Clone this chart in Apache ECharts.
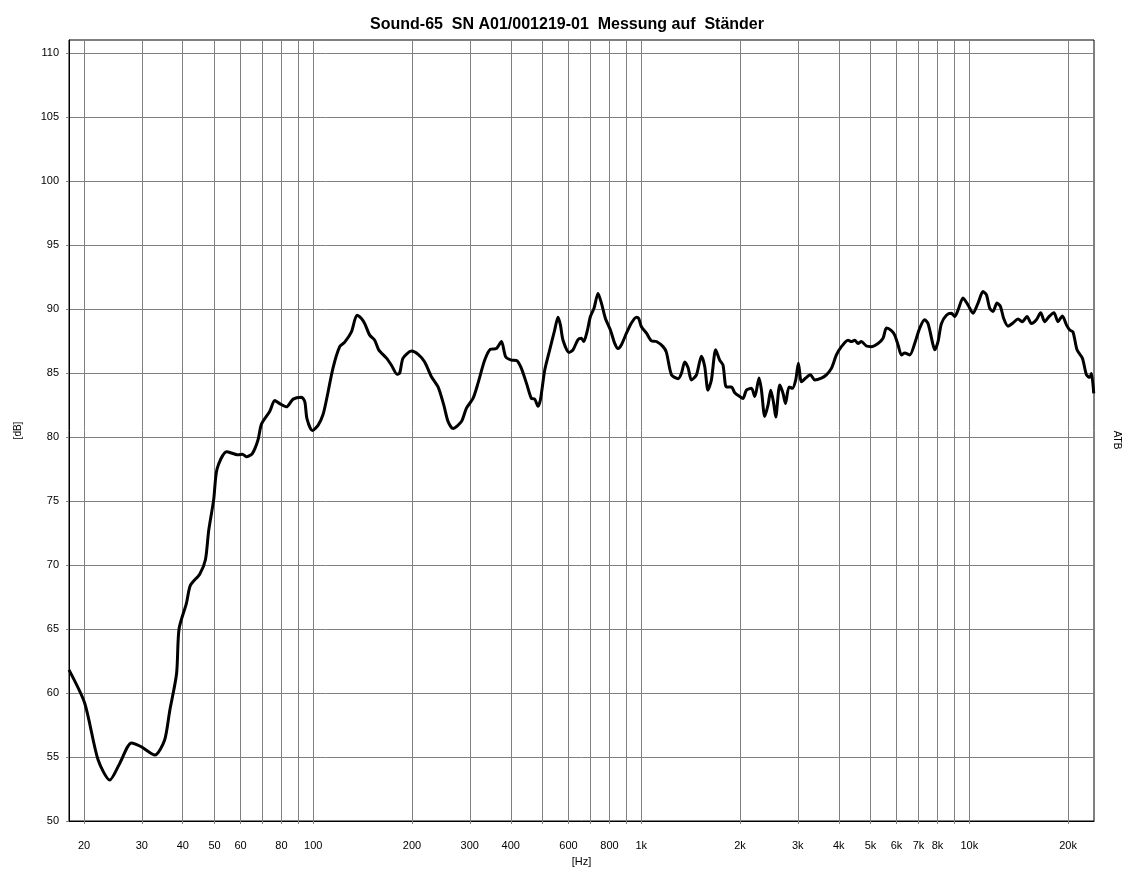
<!DOCTYPE html>
<html>
<head>
<meta charset="utf-8">
<script src="https://cdn.jsdelivr.net/npm/echarts@6/dist/echarts.min.js"></script>
<style>
html,body{margin:0;padding:0;background:#fff;}
#chart{width:1134px;height:880px;}
</style>
</head>
<body>
<div id="chart"></div>
<script>
const titleText = 'Sound-65  SN A01/001219-01  Messung auf  Ständer';

const freqHz = [
  18.0, 20.1, 22.06, 23.96, 25.7, 27.9, 29.9, 32.9, 35.2, 36.5, 38.3, 38.97, 41.04, 42.2, 45.1, 46.9, 48.0, 49.7, 50.9,
  54.4, 59.0, 60.8, 62.5, 65.2, 67.9, 69.5, 73.7, 76.3, 79.0, 82.8, 86.8, 92.0, 94.2, 95.7, 99.3,
  103.4, 107.1, 109.7, 114.9, 120.4, 124.7, 130.7, 135.9, 140.2, 143.5, 148.6, 153.9, 158.3, 167.2, 173.1, 180.1, 183.5, 187.8, 199.2,
  208.8, 218.6, 229.2, 240.1, 249.9, 257.6, 266.7, 282.9, 293.1, 306.9, 317.9, 333.2, 346.8, 361.7, 374.6, 386.1, 401.8,
  417.9, 431.0, 446.5, 462.4, 473.2, 484.3, 492.6, 507.7, 525.8, 544.5, 557.3, 566.8, 577.3, 602.2, 619.3, 641.4, 656.9, 667.6,
  683.2, 699.7, 717.7, 738.0, 755.9, 777.4, 805.2, 829.9, 849.3, 869.9, 901.0, 933.2, 966.5, 982.3, 1001,
  1037, 1074, 1112, 1165, 1193, 1236, 1295, 1325, 1357, 1389, 1422, 1473, 1525, 1561, 1597, 1636, 1686, 1734, 1775, 1817, 1883, 1927, 1996,
  2042, 2091, 2167, 2218, 2286, 2325, 2379, 2435, 2482, 2534, 2570, 2643, 2705, 2751, 2821, 2890, 2957, 3013, 3078,
  3172, 3278, 3379, 3541, 3667, 3798, 3934, 4075, 4269, 4371, 4474, 4580, 4688, 4856, 5030, 5269, 5458, 5590, 5789, 5924,
  6063, 6210, 6357, 6584, 6817, 7061, 7313, 7485, 7752, 7846, 8030, 8223, 8517, 8820, 9028, 9239, 9570, 9911,
  10265, 10632, 11011, 11276, 11541, 11811, 12147, 12441, 12731, 13123, 13590, 14076, 14517, 14993, 15462, 16015, 16506, 16976,
  17497, 18120, 18636, 19220, 19775, 20239, 20713, 21302, 22126, 22756, 23291, 23570, 23958
];

const levelDb = [
  61.8, 59.2, 54.8, 53.2, 54.5, 56.1, 55.8, 55.15, 56.3, 58.6, 61.5, 65.0, 67.0, 68.4, 69.3, 70.4, 72.7, 75.1, 77.5,
  78.85, 78.6, 78.65, 78.45, 78.7, 79.8, 81.0, 82.0, 82.85, 82.6, 82.35, 82.95, 83.1, 82.75, 81.4, 80.5,
  80.9, 81.75, 82.9, 85.4, 87.05, 87.4, 88.2, 89.5, 89.25, 88.85, 87.95, 87.55, 86.8, 86.15, 85.6, 84.9, 85.0, 86.15, 86.7,
  86.45, 85.85, 84.7, 83.9, 82.5, 81.2, 80.65, 81.2, 82.25, 83.0, 84.2, 86.0, 86.85, 86.9, 87.45, 86.25, 86.0,
  85.95, 85.35, 84.2, 83.0, 82.95, 82.4, 82.9, 85.2, 86.8, 88.35, 89.35, 88.75, 87.55, 86.6, 86.8, 87.6, 87.7, 87.45,
  88.2, 89.4, 90.05, 91.2, 90.45, 89.25, 88.35, 87.3, 86.9, 87.2, 88.1, 88.9, 89.35, 89.25, 88.6,
  88.1, 87.5, 87.45, 87.05, 86.6, 84.85, 84.55, 84.95, 85.85, 85.4, 84.45, 84.85, 86.3, 85.5, 83.65, 84.45, 86.8, 86.0, 85.6, 83.9, 83.9, 83.45, 83.15,
  83.0, 83.65, 83.8, 83.15, 84.6, 83.65, 81.6, 82.5, 83.65, 82.6, 81.55, 84.05, 83.4, 82.6, 83.9, 83.8, 84.45, 85.75, 84.3,
  84.6, 84.85, 84.45, 84.6, 84.85, 85.35, 86.4, 87.05, 87.55, 87.45, 87.55, 87.3, 87.45, 87.1, 87.05, 87.3, 87.7, 88.5, 88.3, 87.95,
  87.2, 86.4, 86.55, 86.4, 87.3, 88.5, 89.15, 88.85, 87.2, 86.8, 87.45, 88.85, 89.5, 89.65, 89.4, 89.9, 90.85, 90.3,
  89.65, 90.45, 91.35, 91.1, 90.05, 89.8, 90.45, 90.2, 89.25, 88.65, 88.9, 89.2, 89.0, 89.4, 88.85, 89.15, 89.7, 89.0,
  89.4, 89.7, 89.0, 89.45, 88.75, 88.35, 88.2, 86.8, 86.15, 84.85, 84.65, 84.95, 83.4
];

const xGridFreqs = [20, 30, 40, 50, 60, 70, 80, 90, 100, 200, 300, 400, 500, 600, 700, 800, 900, 1000,
  2000, 3000, 4000, 5000, 6000, 7000, 8000, 9000, 10000, 20000];
const xLabelFreqs = [20, 30, 40, 50, 60, 80, 100, 200, 300, 400, 600, 800, 1000, 2000, 3000, 4000, 5000, 6000, 7000, 8000, 10000, 20000];
const xLabelTexts = ['20', '30', '40', '50', '60', '80', '100', '200', '300', '400', '600', '800', '1k', '2k', '3k', '4k', '5k', '6k', '7k', '8k', '10k', '20k'];
const yTickValues = [50, 55, 60, 65, 70, 75, 80, 85, 90, 95, 100, 105, 110];
const xMinHz = 18, xMaxHz = 24000;
const yMin = 50, yMax = 111, yStep = 5;

const seriesData = freqHz.map((f, i) => [f, levelDb[i]]);
const lg = v => Math.log10(v);

function labelFor(v) {
  let best = 0, bd = Infinity;
  xLabelFreqs.forEach((f, i) => { const d = Math.abs(lg(f) - v); if (d < bd) { bd = d; best = i; } });
  return bd < 1e-6 ? xLabelTexts[best] : '';
}

const FONT = '"Liberation Sans", Arial, sans-serif';
const chart = echarts.init(document.getElementById('chart'), null, {renderer: 'canvas'});
chart.setOption({
  animation: false,
  backgroundColor: '#fff',
  title: {
    text: titleText, left: 'center', top: 12,
    textStyle: {fontFamily: FONT, fontSize: 16, fontWeight: 'bold', color: '#000'}
  },
  grid: {left: 69, right: 40, top: 40, bottom: 59, show: true, borderColor: '#000', borderWidth: 1, backgroundColor: 'transparent'},
  xAxis: [
    {type: 'log', min: xMinHz, max: xMaxHz, show: false, gridIndex: 0},
    {
      type: 'value', gridIndex: 0, position: 'bottom',
      min: lg(xMinHz), max: lg(xMaxHz),
      name: '[Hz]', nameLocation: 'middle', nameGap: 35,
      nameTextStyle: {fontFamily: FONT, fontSize: 11, color: '#000'},
      axisLine: {show: true, lineStyle: {color: '#000', width: 1}},
      axisTick: {show: true, length: 3, customValues: xGridFreqs.map(lg), lineStyle: {color: '#808080'}},
      splitLine: {show: true, lineStyle: {color: '#808080', width: 1}},
      axisLabel: {
        customValues: xLabelFreqs.map(lg), margin: 19,
        fontFamily: FONT, fontSize: 11, color: '#000',
        formatter: v => labelFor(v)
      }
    }
  ],
  yAxis: {
    type: 'value', min: yMin, max: yMax, interval: yStep,
    name: '[dB]', nameLocation: 'middle', nameGap: 46,
    nameTextStyle: {fontFamily: FONT, fontSize: 10, color: '#000'},
    axisLine: {show: true, lineStyle: {color: '#000', width: 1}},
    axisTick: {show: true, length: 3, customValues: yTickValues, lineStyle: {color: '#808080'}},
    splitLine: {show: true, lineStyle: {color: '#808080', width: 1}},
    axisLabel: {
      customValues: yTickValues,
      margin: 10, fontFamily: FONT, fontSize: 11, color: '#000',
      formatter: v => String(v)
    }
  },
  graphic: [{
    type: 'text', x: 1117, y: 440, rotation: -Math.PI / 2,
    style: {text: 'ATB', textAlign: 'center', textVerticalAlign: 'middle', font: '10px "Liberation Sans", Arial, sans-serif', fill: '#000'}
  }],
  series: [{
    type: 'line', xAxisIndex: 0, yAxisIndex: 0,
    data: seriesData, showSymbol: false, smooth: 0.25,
    lineStyle: {color: '#000', width: 3},
    clip: true
  }]
});
</script>
</body>
</html>
